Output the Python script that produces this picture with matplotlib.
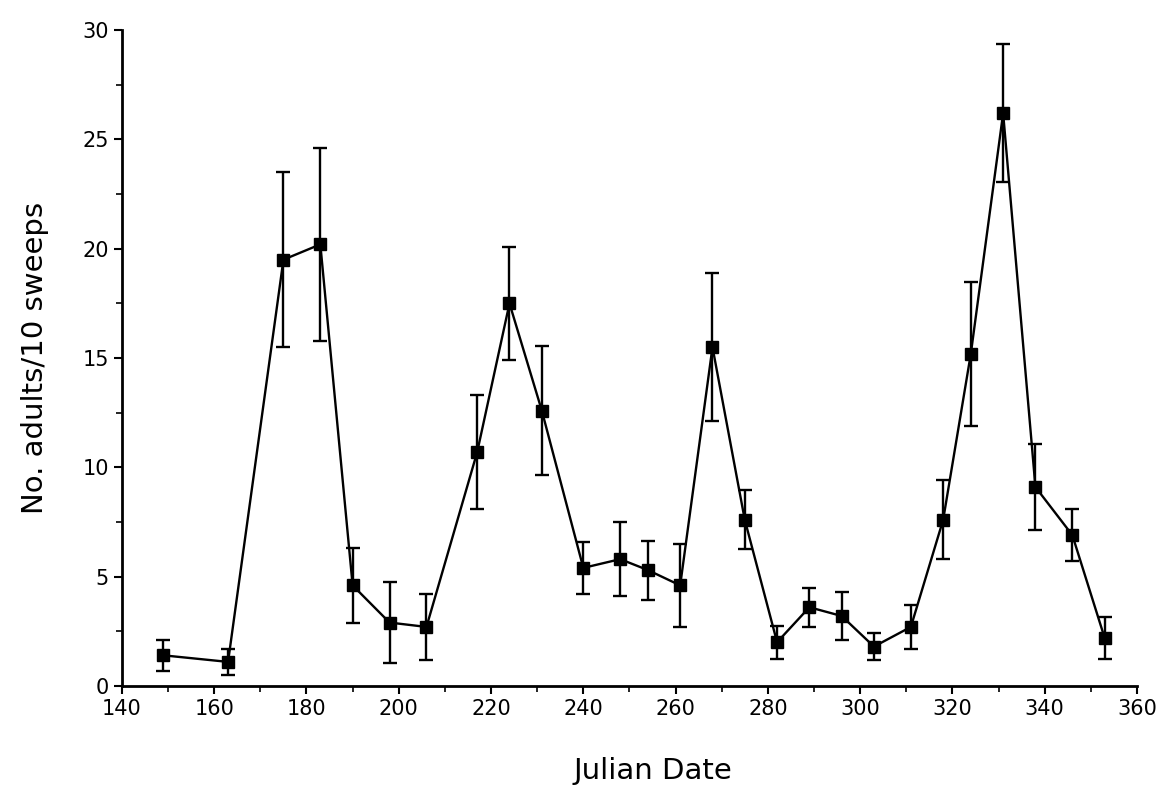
import matplotlib
matplotlib.use('Agg')
import matplotlib.pyplot as plt
from matplotlib.ticker import MultipleLocator

julian_date = [149, 163, 175, 183, 190, 198, 206, 217, 224, 231, 240, 248, 254,
               261, 268, 275, 282, 289, 296, 303, 311, 318, 324, 331, 338, 346, 353]
adults = [1.4, 1.1, 19.5, 20.2, 4.6, 2.9, 2.7, 10.7, 17.5, 12.6, 5.4, 5.8, 5.3,
          4.6, 15.5, 7.6, 2.0, 3.6, 3.2, 1.8, 2.7, 7.6, 15.2, 26.2, 9.1, 6.9, 2.2]
err = [0.7, 0.6, 4.0, 4.4, 1.7, 1.85, 1.5, 2.6, 2.6, 2.95, 1.2, 1.7, 1.35,
       1.9, 3.4, 1.35, 0.75, 0.9, 1.1, 0.6, 1.0, 1.8, 3.3, 3.15, 1.95, 1.2, 0.95]

fig = plt.figure(figsize=(11.56, 7.93), dpi=100)
ax = fig.add_axes([0.1055, 0.135, 0.878, 0.827])

ax.errorbar(julian_date, adults, yerr=err, color='black', marker='s',
            markersize=9, linewidth=1.7, elinewidth=1.7, capsize=5, capthick=1.7)

ax.set_xlim(140, 360)
ax.set_ylim(0, 30)
ax.xaxis.set_major_locator(MultipleLocator(20))
ax.xaxis.set_minor_locator(MultipleLocator(10))
ax.yaxis.set_major_locator(MultipleLocator(5))
ax.yaxis.set_minor_locator(MultipleLocator(2.5))

for side in ['top', 'right']:
    ax.spines[side].set_visible(False)
for side in ['left', 'bottom']:
    ax.spines[side].set_linewidth(2)

ax.tick_params(which='major', direction='out', length=6, width=1.5, labelsize=15)
ax.tick_params(which='minor', direction='out', length=4, width=1.2)

ax.set_xlabel('Julian Date', fontsize=21)
ax.xaxis.set_label_coords(0.523, -0.108)
ax.set_ylabel('No. adults/10 sweeps', fontsize=21, labelpad=24)

fig.savefig('out.png', dpi=100)
plt.close(fig)
